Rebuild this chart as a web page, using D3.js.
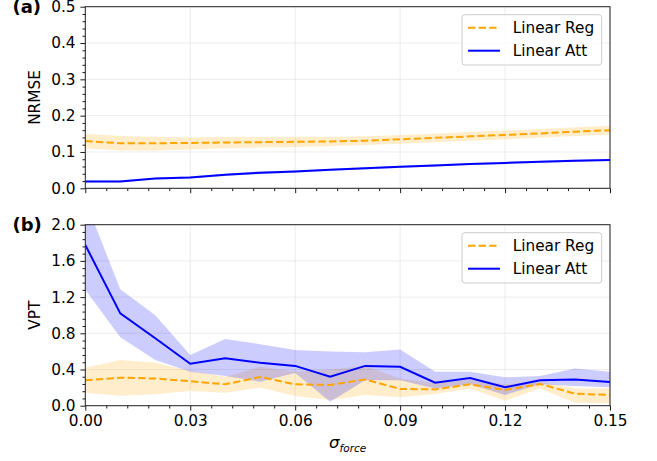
<!DOCTYPE html>
<html><head><meta charset="utf-8">
<script src="https://cdn.jsdelivr.net/npm/d3@7"></script>
<style>
body{margin:0;background:#fff;}
svg text{font-family:"DejaVu Sans",sans-serif;}
</style></head>
<body><svg id="c" width="657" height="461"></svg>
<script>
// ---- data ----
const sigma = [0,0.01,0.02,0.03,0.04,0.05,0.06,0.07,0.08,0.09,0.10,0.11,0.12,0.13,0.14,0.15];
const xTicks = [0,0.03,0.06,0.09,0.12,0.15];
const nrmseTicks = [0,0.1,0.2,0.3,0.4,0.5];
const vptTicks = [0,0.4,0.8,1.2,1.6,2.0];

const nrmseRegMean  = [0.130,0.124,0.124,0.125,0.126,0.127,0.128,0.129,0.131,0.135,0.139,0.143,0.147,0.151,0.156,0.160];
const nrmseRegLow   = [0.110,0.104,0.104,0.107,0.110,0.112,0.114,0.116,0.119,0.123,0.127,0.131,0.135,0.139,0.144,0.148];
const nrmseRegHigh  = [0.150,0.144,0.142,0.140,0.141,0.141,0.142,0.142,0.143,0.147,0.151,0.155,0.159,0.163,0.168,0.172];
const nrmseAttMean  = [0.019,0.019,0.027,0.030,0.037,0.043,0.046,0.051,0.055,0.059,0.063,0.067,0.070,0.073,0.076,0.078];
const nrmseAttLow   = [0.016,0.016,0.024,0.027,0.034,0.039,0.043,0.048,0.052,0.056,0.060,0.064,0.067,0.070,0.073,0.075];
const nrmseAttHigh  = [0.022,0.022,0.030,0.033,0.040,0.047,0.049,0.054,0.058,0.062,0.066,0.070,0.073,0.076,0.079,0.081];

const vptRegMean = [0.28,0.31,0.30,0.27,0.236,0.318,0.236,0.229,0.29,0.185,0.18,0.236,0.173,0.24,0.133,0.118];
const vptRegLow  = [0.144,0.11,0.126,0.162,0.144,0.20,0.107,0.063,0.118,0.092,0.129,0.19,0.055,0.19,0.033,0.026];
const vptRegHigh = [0.42,0.505,0.475,0.387,0.32,0.43,0.376,0.40,0.44,0.30,0.247,0.284,0.236,0.265,0.19,0.19];
const vptAttMean = [1.776,1.02,0.745,0.464,0.523,0.475,0.44,0.32,0.44,0.43,0.254,0.306,0.203,0.28,0.29,0.262];
const vptAttLow  = [1.28,0.756,0.505,0.376,0.328,0.265,0.36,0.045,0.28,0.28,0.19,0.236,0.118,0.236,0.218,0.203];
const vptAttHigh = [2.27,1.286,1.0,0.56,0.737,0.68,0.615,0.60,0.59,0.62,0.376,0.376,0.314,0.328,0.41,0.376];

const seriesNames = ["Linear Reg","Linear Att"];
const regColor = "#FFA500", attColor = "#0000FF";

// ---- layout ----
const svg = d3.select("#c");
const L = 85.3, R = 610;
const x = d3.scaleLinear().domain([0,0.15]).range([L,R]);
const FS = 15.3;

function panel(opts){
  const {top,bottom,domain,ticks,minorStep,yLabel,tag,showX,reg,att,id} = opts;
  const y = d3.scaleLinear().domain(domain).range([bottom,top]);
  const g = svg.append("g");
  g.append("clipPath").attr("id",id).append("rect")
    .attr("x",L).attr("y",top).attr("width",R-L).attr("height",bottom-top);
  // grid
  const grid = g.append("g").attr("stroke","#b0b0b0").attr("stroke-opacity",0.3).attr("stroke-width",0.8);
  xTicks.forEach(t=>grid.append("line").attr("x1",x(t)).attr("x2",x(t)).attr("y1",top).attr("y2",bottom));
  ticks.forEach(t=>grid.append("line").attr("x1",L).attr("x2",R).attr("y1",y(t)).attr("y2",y(t)));
  const data = sigma.map((s,i)=>i);
  const area = (lo,hi)=>d3.area().x(i=>x(sigma[i])).y0(i=>y(lo[i])).y1(i=>y(hi[i]));
  const line = (m)=>d3.line().x(i=>x(sigma[i])).y(i=>y(m[i]));
  const plot = g.append("g").attr("clip-path",`url(#${id})`);
  plot.append("path").attr("d",area(reg[1],reg[2])(data)).attr("fill",regColor).attr("fill-opacity",0.2);
  plot.append("path").attr("d",area(att[1],att[2])(data)).attr("fill",attColor).attr("fill-opacity",0.2);
  plot.append("path").attr("d",line(reg[0])(data)).attr("fill","none").attr("stroke",regColor)
    .attr("stroke-width",2).attr("stroke-dasharray","7.4,3.2");
  plot.append("path").attr("d",line(att[0])(data)).attr("fill","none").attr("stroke",attColor)
    .attr("stroke-width",2);
  // axes
  const xa = d3.axisBottom(x).tickValues(xTicks).tickSize(4.9).tickPadding(4.9)
    .tickFormat(showX ? d3.format(".2f") : "");
  g.append("g").attr("transform",`translate(0,${bottom})`).call(xa);
  const minorX = d3.range(0,0.1500001,0.006).filter(v=>!xTicks.some(t=>Math.abs(t-v)<1e-9));
  g.append("g").attr("transform",`translate(0,${bottom})`)
    .call(d3.axisBottom(x).tickValues(minorX).tickSize(2.8).tickFormat(""));
  const ya = d3.axisLeft(y).tickValues(ticks).tickSize(4.9).tickPadding(4.9).tickFormat(d3.format(".1f"));
  g.append("g").attr("transform",`translate(${L},0)`).call(ya);
  const minorY = d3.range(domain[0],domain[1]+1e-9,minorStep).filter(v=>!ticks.some(t=>Math.abs(t-v)<1e-9));
  g.append("g").attr("transform",`translate(${L},0)`)
    .call(d3.axisLeft(y).tickValues(minorY).tickSize(2.8).tickFormat(""));
  g.selectAll(".domain").remove();
  g.selectAll(".tick line").attr("stroke","#000").attr("stroke-width",0.9);
  g.selectAll(".tick text").attr("font-size",FS).attr("fill","#000").attr("font-family","DejaVu Sans");
  // frame
  g.append("rect").attr("x",L).attr("y",top).attr("width",R-L).attr("height",bottom-top)
    .attr("fill","none").attr("stroke","#222").attr("stroke-width",1);
  // y label
  g.append("text").attr("transform",`translate(${40},${(top+bottom)/2}) rotate(-90)`)
    .attr("text-anchor","middle").attr("font-size",FS).text(yLabel);
  // tag
  g.append("text").attr("x",12.5).attr("y",tag[1]).attr("font-size",18).attr("font-weight","bold").text(tag[0]);
  // legend
  const lx = 462, ly = top + 8, lw = 139.7, lh = 50.3;
  const lg = g.append("g");
  lg.append("rect").attr("x",lx).attr("y",ly).attr("width",lw).attr("height",lh).attr("rx",3)
    .attr("fill","#fff").attr("fill-opacity",0.8).attr("stroke","#cccccc").attr("stroke-width",1);
  [[seriesNames[0],regColor,"7.4,3.2"],[seriesNames[1],attColor,null]].forEach((d,i)=>{
    const cy = ly + 13 + i*23;
    const ln = lg.append("line").attr("x1",lx+6).attr("x2",lx+38).attr("y1",cy).attr("y2",cy)
      .attr("stroke",d[1]).attr("stroke-width",2);
    if(d[2]) ln.attr("stroke-dasharray",d[2]);
    lg.append("text").attr("x",lx+50.7).attr("y",cy+5.5).attr("font-size",FS).text(d[0]);
  });
  return y;
}

panel({id:"clipA",top:6.7,bottom:188.3,domain:[0,0.5],ticks:nrmseTicks,minorStep:0.02,yLabel:"NRMSE",
  tag:["(a)",12.8],showX:false,
  reg:[nrmseRegMean,nrmseRegLow,nrmseRegHigh],att:[nrmseAttMean,nrmseAttLow,nrmseAttHigh]});
panel({id:"clipB",top:224.7,bottom:405.7,domain:[0,2.0],ticks:vptTicks,minorStep:0.08,yLabel:"VPT",
  tag:["(b)",231],showX:true,
  reg:[vptRegMean,vptRegLow,vptRegHigh],att:[vptAttMean,vptAttLow,vptAttHigh]});

// x label
const xl = svg.append("text").attr("x",(L+R)/2).attr("y",447.5).attr("text-anchor","middle")
  .attr("font-style","italic");
xl.append("tspan").attr("font-size",16.5).text("σ");
xl.append("tspan").attr("font-size",10.5).attr("dy",4).text("force");
</script></body></html>
